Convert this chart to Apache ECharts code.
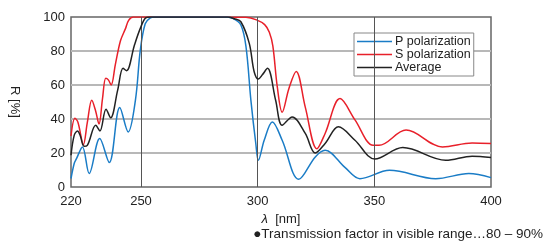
<!DOCTYPE html>
<html>
<head>
<meta charset="utf-8">
<script src="https://cdn.jsdelivr.net/npm/echarts@6/dist/echarts.min.js"></script>
<style>
  html, body { margin: 0; padding: 0; background: #fff; }
  #chart { width: 545px; height: 244px; }
</style>
</head>
<body>
<div id="chart"></div>
<script>
  // wavelength [nm] / reflectance [%]
  var pWave = [220, 221.4, 222.3, 224.9, 227.8, 232.3, 236.4, 240.9, 244.5, 247.6, 249.7, 251.8, 254, 256, 285, 289.3, 292.8, 295, 297.1, 299.2, 300.3, 302.8, 306.3, 310.5, 317.6, 324.7, 328.9, 337.4, 343.8, 356.5, 376.3, 390.5, 400]
  var pValue = [5, 14, 16.5, 23.6, 7.9, 28.5, 14.4, 46.8, 32.4, 51, 80.5, 96, 99.5, 100, 100, 99.2, 95.3, 82.5, 51, 25.6, 15.7, 27.5, 38.3, 27.5, 4.5, 17.7, 21.6, 11.5, 4.9, 9.8, 4.9, 7.9, 5.5]

  var sWave = [220, 221.7, 223, 225.3, 227, 228.9, 230.5, 232, 233.5, 234.9, 236, 237.2, 239, 241.2, 243.3, 244.7, 246.7, 260, 280, 295, 299.5, 303, 305, 306.5, 308.4, 310.5, 313.4, 316.5, 320.4, 325.4, 328.9, 335.3, 341.7, 349.5, 352, 363.6, 379.2, 391.9, 400]
  var sValue = [30, 40.5, 38, 25, 38, 51, 45, 37, 52, 64, 63, 60, 72, 86, 93, 98, 100, 100, 100, 99.8, 98.3, 95.5, 91, 83, 59, 44, 58, 68, 47, 22.5, 31.5, 52, 39.5, 24.5, 24.5, 33.5, 23.6, 25.9, 25.6]

  var avgWave = [220, 221.4, 222.8, 224, 225.6, 227, 230.6, 232.4, 235, 237, 240, 242.3, 243.8, 247.2, 249.7, 252, 254, 287, 290, 292.8, 296.4, 298.5, 300.3, 302, 304.2, 307.7, 310.5, 314.8, 320.4, 324.7, 328.9, 334.6, 341.7, 350.2, 362.2, 380.6, 391.9, 400]
  var avgValue = [18.7, 30.5, 33, 30, 24, 24.5, 36.3, 33, 45.8, 40.7, 57, 69.8, 68.4, 83.5, 93.3, 99.5, 100, 100, 99, 97.2, 84.5, 67.8, 63.5, 66, 69.8, 51, 36.3, 41.2, 31.5, 20, 25.6, 35.4, 27.5, 16.5, 23.2, 15.7, 18.1, 17.3]

  var xTicks = [220, 250, 300, 350, 400]
  var xLines = [250, 300, 350]

  function pairs(xs, ys) {
    return xs.map(function (x, i) { return [x, ys[i]] })
  }

  var font = 'Liberation Sans, Arial, sans-serif'
  var myChart = echarts.init(document.getElementById('chart'))

  myChart.setOption({
    animation: false,
    textStyle: { fontFamily: font },
    grid: {
      left: 67, right: 54, top: 17, bottom: 57,
      show: true, borderColor: '#666', borderWidth: 1.5
    },
    legend: {
      left: 354, top: 33,
      orient: 'vertical',
      icon: 'rect',
      itemWidth: 35, itemHeight: 1.5,
      itemGap: 0,
      padding: [2, 3, 2, 3],
      borderColor: '#888', borderWidth: 1,
      backgroundColor: '#fff',
      textStyle: { fontFamily: font, fontSize: 12.5, color: '#222', lineHeight: 12, padding: [0, 0, 0, -2] },
      data: ['P polarization', 'S polarization', 'Average']
    },
    xAxis: {
      type: 'value',
      min: 220, max: 400, interval: 10,
      name: '{i|λ}  [nm]',
      nameLocation: 'middle',
      nameGap: 22,
      nameTextStyle: {
        fontFamily: font, fontSize: 13, color: '#222',
        rich: { i: { fontStyle: 'italic', fontFamily: font, fontSize: 13, color: '#222' } }
      },
      axisLine: { show: false },
      axisTick: { show: false },
      splitLine: { show: false },
      axisLabel: {
        fontSize: 13, color: '#222', margin: 8,
        formatter: function (v) { return xTicks.indexOf(v) >= 0 ? String(v) : '' }
      }
    },
    yAxis: {
      type: 'value',
      min: 0, max: 100, interval: 20,
      name: 'R [%]',
      nameLocation: 'middle',
      nameRotate: -90,
      nameGap: 50,
      nameTextStyle: { fontFamily: font, fontSize: 13, color: '#222' },
      axisLine: { show: false },
      axisTick: { show: false },
      axisLabel: { fontSize: 13, color: '#222', margin: 6 },
      splitLine: {
        show: true, showMinLine: false, showMaxLine: false,
        lineStyle: { color: '#b8b8b8', width: 2 }
      }
    },
    series: [
      {
        name: 'P polarization',
        type: 'line',
        data: pairs(pWave, pValue),
        smooth: 0.35,
        symbol: 'none',
        z: 4,
        lineStyle: { color: '#1a7cc6', width: 1.5 },
        itemStyle: { color: '#1a7cc6' },
        markLine: {
          silent: true,
          symbol: 'none',
          label: { show: false },
          lineStyle: { color: '#555', width: 1, type: 'solid' },
          data: xLines.map(function (v) { return { xAxis: v } })
        }
      },
      {
        name: 'S polarization',
        type: 'line',
        data: pairs(sWave, sValue),
        smooth: 0.35,
        symbol: 'none',
        z: 3,
        lineStyle: { color: '#e8202a', width: 1.5 },
        itemStyle: { color: '#e8202a' }
      },
      {
        name: 'Average',
        type: 'line',
        data: pairs(avgWave, avgValue),
        smooth: 0.35,
        symbol: 'none',
        z: 5,
        lineStyle: { color: '#222', width: 1.5 },
        itemStyle: { color: '#222' }
      }
    ],
    graphic: [
      {
        type: 'text',
        right: 2, top: 227,
        style: {
          text: '●Transmission factor in visible range…80 – 90%',
          font: '13.5px ' + font,
          fill: '#222'
        }
      }
    ]
  })
</script>
</body>
</html>
